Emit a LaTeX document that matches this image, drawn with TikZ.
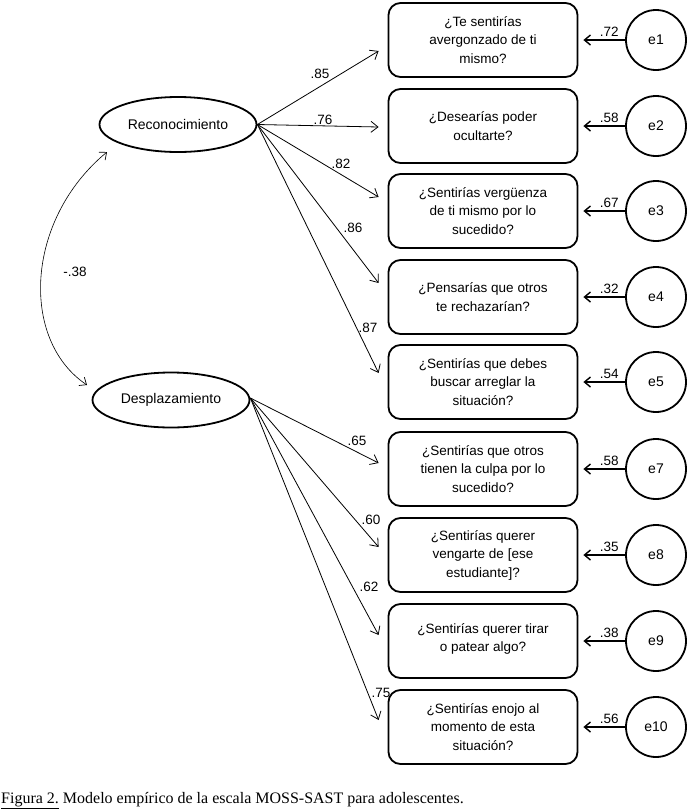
\documentclass[tikz,border=0pt]{standalone}
\usepackage{fontspec}
\setmainfont{Liberation Sans}
\newfontfamily\capfont{Liberation Serif}
\usetikzlibrary{arrows.meta,shapes.geometric,calc}
\begin{document}
\begin{tikzpicture}[x=1pt,y=-1pt,
  item/.style={draw, line width=1.8pt, rounded corners=12pt, minimum width=189pt, minimum height=74pt, align=center, font=\fontsize{13.5}{18.5}\selectfont, inner sep=2pt},
  latent/.style={draw, ellipse, line width=1.8pt, minimum width=157pt, minimum height=55pt, inner sep=0pt, font=\fontsize{14}{16}\selectfont},
  errc/.style={draw, circle, line width=1.8pt, minimum size=60pt, inner sep=0pt, font=\fontsize{14}{16}\selectfont},
  load/.style={line width=0.8pt, -{Straight Barb[length=7pt,width=11pt,line width=0.8pt]}},
  errarr/.style={line width=1.7pt, -{Straight Barb[length=6pt,width=10pt,line width=1.4pt]}},
  cov/.style={line width=0.6pt, {Straight Barb[length=6pt,width=10pt,line width=0.7pt]}-{Straight Barb[length=6pt,width=10pt,line width=0.7pt]}},
  coef/.style={font=\fontsize{13.5}{15}\selectfont, inner sep=0pt},
]
\useasboundingbox (0,0) rectangle (690,812);

% latent variables
\node[latent] (rec) at (178,124.5) {Reconocimiento};
\node[latent] (des) at (171,400) {Desplazamiento};

% observed items
\node[item] (b1) at (483,40) {¿Te sentirías\\avergonzado de ti\\mismo?};
\node[item] (b2) at (483,126) {¿Desearías poder\\ocultarte?};
\node[item] (b3) at (483,211) {¿Sentirías vergüenza\\de ti mismo por lo\\sucedido?};
\node[item] (b4) at (483,297) {¿Pensarías que otros\\te rechazarían?};
\node[item] (b5) at (483,382) {¿Sentirías que debes\\buscar arreglar la\\situación?};
\node[item] (b7) at (483,469) {¿Sentirías que otros\\tienen la culpa por lo\\sucedido?};
\node[item] (b8) at (483,555) {¿Sentirías querer\\vengarte de [ese\\estudiante]?};
\node[item, text height=24pt] (b9) at (483,641) {¿Sentirías querer tirar\\o patear algo?};
\node[item] (b10) at (483,727) {¿Sentirías enojo al\\momento de esta\\situación?};

% error terms
\node[errc] (e1) at (656,40) {e1};
\node[errc] (e2) at (656,126) {e2};
\node[errc] (e3) at (656,211) {e3};
\node[errc] (e4) at (656,297) {e4};
\node[errc] (e5) at (656,382) {e5};
\node[errc] (e7) at (656,469) {e7};
\node[errc] (e8) at (656,555) {e8};
\node[errc] (e9) at (656,641) {e9};
\node[errc] (e10) at (656,727) {e10};

% loading arrow tips
\coordinate (t1) at ([xshift=-9pt,yshift=-11pt]b1.west);
\coordinate (t2) at ([xshift=-9pt,yshift=-1pt]b2.west);
\coordinate (t3) at ([xshift=-9pt,yshift=14pt]b3.west);
\coordinate (t4) at ([xshift=-9pt,yshift=14pt]b4.west);
\coordinate (t5) at ([xshift=-9pt,yshift=9pt]b5.west);
\coordinate (t7) at ([xshift=-9pt,yshift=6pt]b7.west);
\coordinate (t8) at ([xshift=-9pt,yshift=8pt]b8.west);
\coordinate (t9) at ([xshift=-9pt,yshift=6pt]b9.west);
\coordinate (t10) at ([xshift=-9pt,yshift=7pt]b10.west);

\draw[load] (rec.east) -- (t1);
\draw[load] (rec.east) -- (t2);
\draw[load] (rec.east) -- (t3);
\draw[load] (rec.east) -- (t4);
\draw[load] (rec.east) -- (t5);
\draw[load] ([yshift=2pt]des.east) -- (t7);
\draw[load] ([yshift=2pt]des.east) -- (t8);
\draw[load] ([yshift=2pt]des.east) -- (t9);
\draw[load] ([yshift=2pt]des.east) -- (t10);

% loading coefficients
\node[coef] (l1) at (320,74) {.85};
\node[coef] (l2) at (323,120) {.76};
\node[coef] (l3) at (341,164) {.82};
\node[coef] (l4) at (353,228) {.86};
\node[coef] (l5) at (368,328) {.87};
\node[coef] (l7) at (357,441) {.65};
\node[coef] (l8) at (371,520) {.60};
\node[coef] (l9) at (369,587) {.62};
\node[coef] (l10) at (381,693) {.75};

% error arrows
\draw[errarr] (e1) -- ([xshift=5pt]b1.east) node[coef, pos=0.38, above=2.5pt] (r1) {.72};
\draw[errarr] (e2) -- ([xshift=5pt]b2.east) node[coef, pos=0.38, above=2.5pt] (r2) {.58};
\draw[errarr] (e3) -- ([xshift=5pt]b3.east) node[coef, pos=0.38, above=2.5pt] (r3) {.67};
\draw[errarr] (e4) -- ([xshift=5pt]b4.east) node[coef, pos=0.38, above=2.5pt] (r4) {.32};
\draw[errarr] (e5) -- ([xshift=5pt]b5.east) node[coef, pos=0.38, above=2.5pt] (r5) {.54};
\draw[errarr] (e7) -- ([xshift=5pt]b7.east) node[coef, pos=0.38, above=2.5pt] (r7) {.58};
\draw[errarr] (e8) -- ([xshift=5pt]b8.east) node[coef, pos=0.38, above=2.5pt] (r8) {.35};
\draw[errarr] (e9) -- ([xshift=5pt]b9.east) node[coef, pos=0.38, above=2.5pt] (r9) {.38};
\draw[errarr] (e10) -- ([xshift=5pt]b10.east) node[coef, pos=0.38, above=2.5pt] (r10) {.56};

% covariance
\coordinate (cr) at (107,152);
\coordinate (cd) at (87,385);
\draw[cov] (cd) .. controls (20,340) and (25,220) .. (cr);
\node[coef] (cv) at (75,272) {-.38};

% caption
\node[anchor=base west, inner sep=0pt, font=\capfont\fontsize{16}{18}\selectfont] (cap) at (1,803) {\underline{Figura 2.} Modelo empírico de la escala MOSS-SAST para adolescentes.};
\end{tikzpicture}
\end{document}
